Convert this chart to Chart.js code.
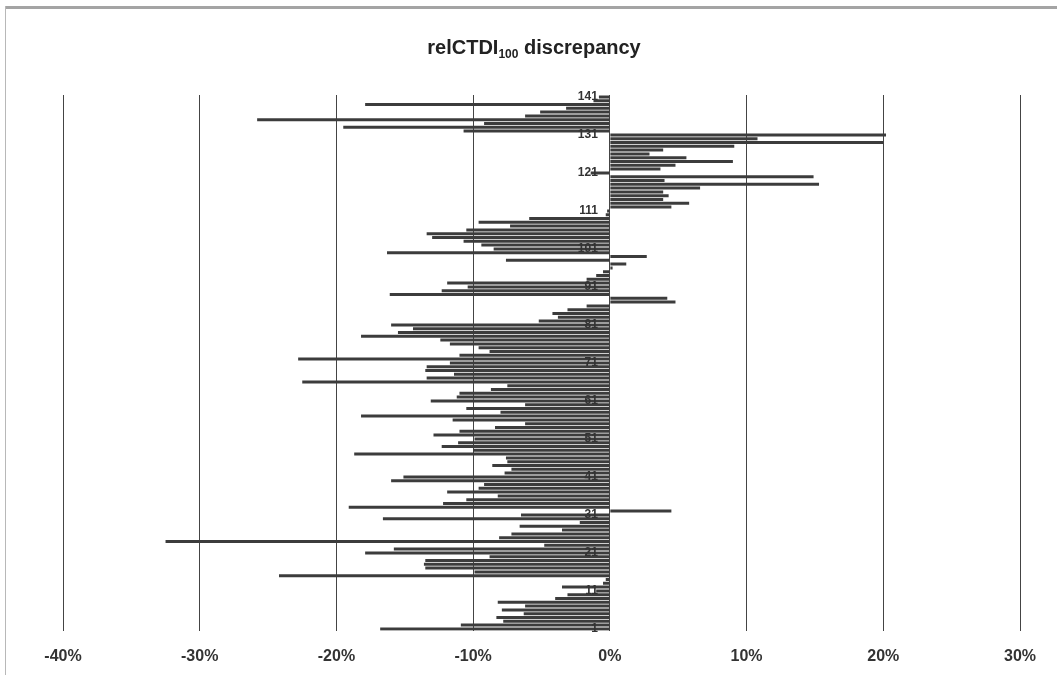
<!DOCTYPE html>
<html>
<head>
<meta charset="utf-8">
<script src="https://cdn.jsdelivr.net/npm/chart.js@4/dist/chart.umd.min.js"></script>
<style>
  html, body { margin: 0; padding: 0; background: #ffffff; }
  canvas { display: block; }
</style>
</head>
<body>
<canvas id="chart" width="1057" height="675"></canvas>
<script>
// Relative CTDI100 discrepancy per scanner (percent), scanner 1 first
const discrepancy = [
  -16.8, -10.9, -7.8, -8.3, -6.3, -7.9, -6.2, -8.2, -4.0, -3.1,
  -1.0, -3.5, -0.5, -0.3, -24.2, -9.9, -13.5, -13.6, -13.5, -8.8,
  -17.9, -15.8, -4.8, -32.5, -8.1, -7.2, -3.5, -6.6, -2.2, -16.6,
  -6.5, 4.5, -19.1, -12.2, -10.5, -8.2, -11.9, -9.6, -9.2, -16.0,
  -15.1, -7.7, -7.2, -8.6, -7.5, -7.6, -18.7, -10.0, -12.3, -11.1,
  -9.9, -12.9, -11.0, -8.4, -6.2, -11.5, -18.2, -8.0, -10.5, -6.2,
  -13.1, -11.2, -11.0, -8.7, -7.5, -22.5, -13.4, -11.4, -13.5, -13.4,
  -11.7, -22.8, -11.0, -8.8, -9.6, -11.7, -12.4, -18.2, -15.5, -14.4,
  -16.0, -5.2, -3.8, -4.2, -3.1, -1.7, 4.8, 4.2, -16.1, -12.3,
  -10.4, -11.9, -1.7, -1.0, -0.5, 0.2, 1.2, -7.6, 2.7, -16.3,
  -8.5, -9.4, -10.7, -13.0, -13.4, -10.5, -7.3, -9.6, -5.9, -0.3,
  -0.2, 4.5, 5.8, 3.9, 4.3, 3.9, 6.6, 15.3, 4.0, 14.9,
  -1.4, 3.7, 4.8, 9.0, 5.6, 2.9, 3.9, 9.1, 20.0, 10.8,
  20.2, -10.7, -19.5, -9.2, -25.8, -6.2, -5.1, -3.2, -17.9, -1.2,
  -0.8
];

// Scanner numbers along the category axis
const scannerIds = discrepancy.map((_, i) => String(i + 1));

// Category labels that are printed next to the axis
const labelledIds = ['1', '11', '21', '31', '41', '51', '61', '71', '81', '91',
                     '101', '111', '121', '131', '141'];

// Percentage ticks along the value axis
const percentTicks = [-40, -30, -20, -10, 0, 10, 20, 30];

const titleMain = 'relCTDI';
const titleSub = '100';
const titleRest = ' discrepancy';

const FONT = '"Liberation Sans", Arial, Helvetica, sans-serif';

// Grey frame edge, scanner labels beside the zero axis, and the title with its subscript
const decorations = {
  id: 'decorations',
  beforeDraw(chart) {
    const ctx = chart.ctx;
    ctx.save();
    ctx.fillStyle = '#ffffff';
    ctx.fillRect(0, 0, chart.width, chart.height);
    ctx.fillStyle = '#a4a4a4';
    ctx.fillRect(5, 6, chart.width - 5, 3);
    ctx.fillStyle = '#b8b8b8';
    ctx.fillRect(5, 6, 1, chart.height - 6);
    ctx.restore();
  },
  afterDraw(chart) {
    const ctx = chart.ctx;
    const xs = chart.scales.x;
    const ys = chart.scales.y;
    ctx.save();

    // scanner numbers, right-aligned just left of the 0 % axis
    ctx.fillStyle = '#333333';
    ctx.font = 'bold 12px ' + FONT;
    ctx.textAlign = 'right';
    ctx.textBaseline = 'middle';
    const x0 = xs.getPixelForValue(0);
    scannerIds.forEach((id, i) => {
      if (labelledIds.includes(id)) {
        ctx.fillText(id, x0 - 12, ys.getPixelForValue(i));
      }
    });

    // title
    ctx.fillStyle = '#222222';
    ctx.textBaseline = 'alphabetic';
    ctx.textAlign = 'left';
    const big = 'bold 20px ' + FONT;
    const small = 'bold 12px ' + FONT;
    ctx.font = big;
    const w1 = ctx.measureText(titleMain).width;
    const w3 = ctx.measureText(titleRest).width;
    ctx.font = small;
    const w2 = ctx.measureText(titleSub).width;
    const total = w1 + w2 + w3;
    let x = 534 - total / 2;
    const base = 54;
    ctx.font = big;
    ctx.fillText(titleMain, x, base);
    x += w1;
    ctx.font = small;
    ctx.fillText(titleSub, x, base + 4);
    x += w2;
    ctx.font = big;
    ctx.fillText(titleRest, x, base);
    ctx.restore();
  }
};

new Chart(document.getElementById('chart'), {
  type: 'bar',
  data: {
    labels: scannerIds,
    datasets: [{
      data: discrepancy,
      backgroundColor: '#3c3c3c',
      borderWidth: 0,
      barPercentage: 0.78,
      categoryPercentage: 1.0
    }]
  },
  options: {
    indexAxis: 'y',
    responsive: false,
    animation: false,
    devicePixelRatio: 1,
    layout: { padding: { left: 63, right: 37, top: 95, bottom: -7 } },
    plugins: {
      legend: { display: false },
      title: { display: false },
      tooltip: { enabled: false }
    },
    scales: {
      x: {
        type: 'linear',
        min: percentTicks[0],
        max: percentTicks[percentTicks.length - 1],
        afterBuildTicks(scale) {
          scale.ticks = percentTicks.map(v => ({ value: v }));
        },
        grid: { color: '#444444', lineWidth: 1, drawTicks: false },
        border: { display: false },
        ticks: {
          padding: 16,
          color: '#333333',
          font: { family: FONT, size: 16, weight: 'bold' },
          callback: v => v + '%'
        }
      },
      y: {
        type: 'category',
        reverse: true,
        position: { x: 0 },
        offset: true,
        grid: { display: false },
        border: { display: true, color: '#444444', width: 1 },
        ticks: { display: false }
      }
    }
  },
  plugins: [decorations]
});
</script>
</body>
</html>
